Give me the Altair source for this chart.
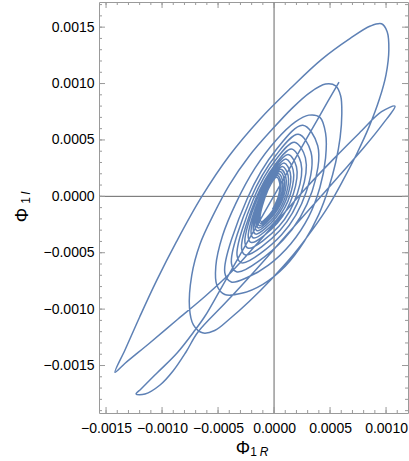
import altair as alt
import pandas as pd

# ---- trajectory (units of 1e-4), in drawing order ----
# straight spike (starts at its upper-right end)
spike_x = [5.80, 4.11, 2.32, 0.54, -1.25, -3.04, -4.82, -6.16, -7.05]
spike_y = [10.13, 7.21, 4.10, 1.00, -2.10, -5.20, -8.31, -10.61, -11.85]
# small lower loop
low_loop_x = [-8.66, -10.45, -11.88, -12.32, -11.52, -10.18, -9.02, -7.86, -6.79]
low_loop_y = [-13.89, -15.66, -17.08, -17.53, -17.53, -16.73, -15.49, -13.80, -12.03]
# long thin loop, lower edge up to the right tip
thin_up_x = [-4.3, -1.8, 0.7, 3.2, 5.7, 8.0, 9.7, 10.8]
thin_up_y = [-9.4, -6.7, -3.9, -1.1, 1.7, 4.3, 6.4, 8.0]
# back down to the far lower-left tip
thin_down_x = [9.6, 7.6, 5.3, 3.0, 0.7, -1.6, -3.9, -6.2, -8.6, -11.1, -13.3, -14.2]
thin_down_y = [7.5, 5.6, 3.3, 0.9, -1.7, -4.3, -6.8, -8.9, -10.9, -13.0, -14.8, -15.6]
# big outer loop
big_x = [-13.3, -12.0, -10.5, -8.7, -6.5, -4.0, -1.3, 1.5, 4.2, 6.8, 8.6, 9.6, 10.1, 10.25,
         10.0, 9.4, 8.5, 7.4, 6.2, 4.9, 3.4, 1.7, -0.2, -2.2, -4.0, -5.3, -6.4]
big_y = [-13.6, -10.7, -7.5, -4.0, -0.1, 3.6, 6.8, 9.6, 12.1, 14.0, 15.1, 15.3, 14.6, 13.0,
         10.8, 8.6, 6.2, 3.8, 1.5, -0.8, -3.0, -5.2, -7.3, -9.3, -10.9, -11.9, -12.1]
# second loop
second_x = [-7.2, -7.55, -7.35, -6.6, -5.4, -4.0, -2.2, -0.2, 1.6, 3.2, 4.6, 5.5, 5.95, 6.05,
            5.9, 5.5, 4.9, 4.0, 2.7, 1.0, -1.0, -2.9]
second_y = [-11.4, -9.9, -7.0, -4.2, -1.6, 1.0, 3.6, 5.9, 7.8, 9.2, 9.95, 9.8, 8.9, 7.3,
            5.2, 3.0, 0.8, -1.6, -4.0, -6.2, -7.8, -8.6]
# third loop
third_x = [-4.4, -5.1, -5.2, -4.6, -3.4, -1.7, 0.2, 1.9, 3.1, 4.1, 4.6, 4.6, 4.1, 3.1, 1.5, -0.5, -2.4]
third_y = [-8.7, -7.9, -6.2, -3.5, -0.6, 2.5, 5.0, 6.6, 7.2, 7.0, 5.6, 3.4, 0.8, -1.8, -4.2, -6.1, -7.2]
# inner loops spiralling into the centre
inner_x = [
    [-3.82, -4.40, -2.41, 0.25, 2.57, 3.90, 3.40, 0.83],
    [-3.30, -3.80, -2.10, 0.18, 2.16, 3.30, 2.87, 0.67],
    [-2.87, -3.30, -1.84, 0.12, 1.82, 2.80, 2.43, 0.54],
    [-2.53, -2.90, -1.63, 0.07, 1.55, 2.40, 2.08, 0.44],
    [-2.28, -2.60, -1.50, -0.02, 1.26, 2.00, 1.72, 0.30],
    [-2.02, -2.30, -1.34, -0.06, 1.06, 1.70, 1.46, 0.22],
    [-1.80, -2.05, -1.21, -0.09, 0.89, 1.45, 1.24, 0.16],
    [-1.63, -1.85, -1.11, -0.11, 0.75, 1.25, 1.06, 0.10],
    [-1.51, -1.70, -1.04, -0.16, 0.61, 1.05, 0.89, 0.03],
    [-1.38, -1.55, -0.96, -0.18, 0.51, 0.90, 0.75, -0.01],
    [-1.30, -1.45, -0.92, -0.22, 0.40, 0.75, 0.62, -0.06],
    [-1.21, -1.35, -0.88, -0.26, 0.29, 0.60, 0.48, -0.12],
    [-1.13, -1.25, -0.83, -0.27, 0.22, 0.50, 0.40, -0.15],
]
inner_y = [
    [-7.60, -6.77, -0.23, 4.22, 6.30, 4.49, 0.46, -3.85],
    [-6.70, -5.97, -0.23, 3.67, 5.50, 3.91, 0.38, -3.41],
    [-5.90, -5.26, -0.23, 3.20, 4.80, 3.41, 0.31, -3.01],
    [-5.20, -4.64, -0.22, 2.79, 4.20, 2.98, 0.25, -2.66],
    [-4.60, -4.10, -0.20, 2.46, 3.70, 2.62, 0.21, -2.36],
    [-4.10, -3.66, -0.18, 2.19, 3.30, 2.34, 0.19, -2.10],
    [-3.70, -3.30, -0.18, 1.95, 2.95, 2.09, 0.16, -1.90],
    [-3.35, -2.99, -0.17, 1.75, 2.65, 1.87, 0.13, -1.73],
    [-3.05, -2.72, -0.16, 1.58, 2.40, 1.69, 0.11, -1.58],
    [-2.80, -2.50, -0.15, 1.45, 2.20, 1.55, 0.10, -1.45],
    [-2.60, -2.32, -0.16, 1.31, 2.00, 1.40, 0.07, -1.36],
    [-2.40, -2.14, -0.15, 1.21, 1.85, 1.30, 0.07, -1.25],
    [-2.25, -2.01, -0.16, 1.11, 1.70, 1.19, 0.04, -1.18],
]

# ---- axes ----
x_domain = [-0.001563, 0.001196]
y_domain = [-0.001921, 0.001723]
x_major = [-0.0015, -0.0010, -0.0005, 0.0, 0.0005, 0.0010]
y_major = [-0.0015, -0.0010, -0.0005, 0.0, 0.0005, 0.0010, 0.0015]
x_minor = [round(-0.0015 + 0.0001 * i, 4) for i in range(27)]
y_minor = [round(-0.0019 + 0.0001 * i, 4) for i in range(37)]
x_title = ["Φ", "1", "R"]
y_title = ["Φ", "1", "I"]

W, H = 309, 411
BLUE = "#5E81B5"
FRAME = "#9a9a9a"
FONT = "Liberation Sans"

xs, ys = [], []
for sx, sy in [(spike_x, spike_y), (low_loop_x, low_loop_y), (thin_up_x, thin_up_y),
               (thin_down_x, thin_down_y), (big_x, big_y), (second_x, second_y),
               (third_x, third_y)]:
    xs += sx
    ys += sy
for lx, ly in zip(inner_x, inner_y):
    xs += lx
    ys += ly

df = pd.DataFrame({"x": [v * 1e-4 for v in xs], "y": [v * 1e-4 for v in ys],
                   "o": list(range(len(xs)))})

xscale = alt.Scale(domain=x_domain, nice=False, zero=False)
yscale = alt.Scale(domain=y_domain, nice=False, zero=False)
xaxis = alt.Axis(values=x_major, format=".4f", ticks=False, domain=False, grid=False,
                 labelFlush=False, labelOverlap=False, labelBound=False,
                 labelFontSize=14, labelFont=FONT, labelColor="black",
                 labelPadding=8, title=None)
yaxis = alt.Axis(values=y_major, format=".4f", ticks=False, domain=False, grid=False,
                 labelFlush=False, labelOverlap=False, labelBound=False,
                 labelFontSize=14, labelFont=FONT, labelColor="black",
                 labelPadding=5, title=None)

def X(field):
    return alt.X(field, type="quantitative", scale=xscale, axis=xaxis)

def Y(field):
    return alt.Y(field, type="quantitative", scale=yscale, axis=yaxis)

zero = pd.DataFrame({"v": [0.0]})
vline = alt.Chart(zero).mark_rule(color="#666666", strokeWidth=1).encode(x=X("v"))
hline = alt.Chart(zero).mark_rule(color="#666666", strokeWidth=1).encode(y=Y("v"))

curve = alt.Chart(df).mark_line(color=BLUE, strokeWidth=1.5, interpolate="catmull-rom",
                                clip=True).encode(x=X("x"), y=Y("y"), order="o:Q")

def xticks(vals, L):
    d = pd.DataFrame({"v": vals})
    b = alt.Chart(d).mark_rule(color=FRAME, strokeWidth=1).encode(
        x=X("v"), y=alt.value(H), y2=alt.value(H - L))
    t = alt.Chart(d).mark_rule(color=FRAME, strokeWidth=1).encode(
        x=X("v"), y=alt.value(0), y2=alt.value(L))
    return [b, t]

def yticks(vals, L):
    d = pd.DataFrame({"v": vals})
    l = alt.Chart(d).mark_rule(color=FRAME, strokeWidth=1).encode(
        y=Y("v"), x=alt.value(0), x2=alt.value(L))
    r = alt.Chart(d).mark_rule(color=FRAME, strokeWidth=1).encode(
        y=Y("v"), x=alt.value(W), x2=alt.value(W - L))
    return [l, r]

ticks = xticks(x_minor, 3) + xticks(x_major, 6) + yticks(y_minor, 3) + yticks(y_major, 6)

def label(txt, x, y, size, angle=0, italic=False):
    d = pd.DataFrame({"t": [txt]})
    kw = dict(font=FONT, fontSize=size, color="black", align="center", baseline="middle")
    if angle:
        kw["angle"] = angle
    if italic:
        kw["fontStyle"] = "italic"
    return alt.Chart(d).mark_text(**kw).encode(x=alt.value(x), y=alt.value(y), text="t:N")

titles = [
    label(x_title[0], 144, 446.5, 18),
    label(x_title[1], 154.5, 450, 12),
    label(x_title[2], 165, 450, 12, italic=True),
    label(y_title[0], -76.5, 213, 18, angle=270),
    label(y_title[1], -73, 198.5, 12, angle=270),
    label(y_title[2], -73, 191, 12, angle=270, italic=True),
]

chart = alt.layer(vline, hline, curve, *ticks, *titles).properties(
    width=W, height=H,
    autosize=alt.AutoSizeParams(type="none"),
    padding={"left": 99, "top": 2, "right": 1, "bottom": 48},
).configure_view(stroke=FRAME, strokeWidth=1)

chart.save("out.html", embed_options={"renderer": "svg", "actions": False})
